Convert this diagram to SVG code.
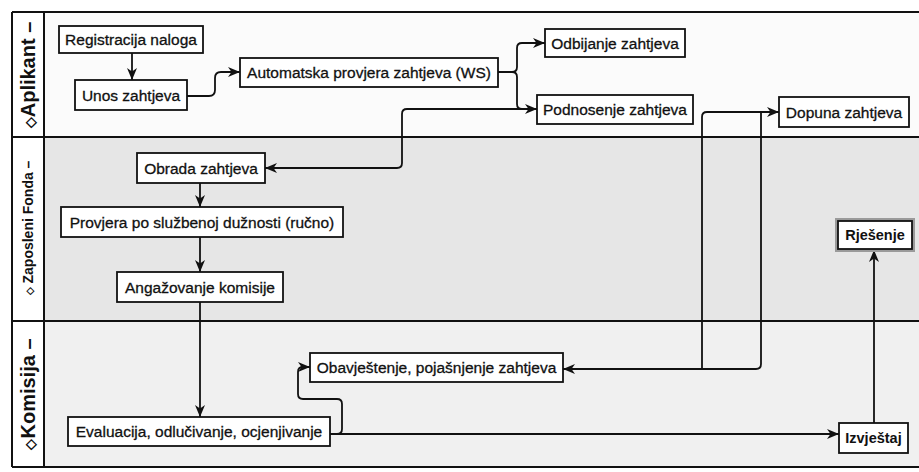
<svg xmlns="http://www.w3.org/2000/svg" width="919" height="472" viewBox="0 0 919 472">
<style>
.node rect{fill:#fff;stroke:#111;stroke-width:1.8}
.node text{font-family:"Liberation Sans",Arial,sans-serif;font-size:15.5px;fill:#111;stroke:#111;stroke-width:0.3;text-anchor:middle}
.node text.b{font-weight:bold;font-size:14.5px;stroke-width:0}
.conn path{fill:none;stroke:#111;stroke-width:1.8}
.lane{font-family:"Liberation Sans",Arial,sans-serif;font-weight:bold;fill:#111;text-anchor:middle}
.dia{font-size:72%}
.frame{stroke:#111;stroke-width:2;fill:none}
</style>
<defs>
<marker id="arr" markerUnits="userSpaceOnUse" markerWidth="13" markerHeight="11" refX="12" refY="5" orient="auto">
<path d="M0,0 L12,5 L0,10 L3.5,5 z" fill="#111"/>
</marker>
</defs>
<rect width="919" height="472" fill="#fff"/>
<g id="lanes">
<rect x="44" y="12" width="875" height="125" fill="#fbfbfb"/>
<rect x="44" y="137" width="875" height="184" fill="#e6e6e6"/>
<rect x="44" y="321" width="875" height="146" fill="#f0f0f0"/>
<path class="frame" d="M12,12 H919 M12,137 H919 M12,321 H919 M12,467 H919 M12,12 V467 M44,12 V467"/>
<text class="lane" font-size="20" transform="translate(35,75) rotate(-90)"><tspan class="dia">◇</tspan>Aplikant –</text>
<text class="lane" font-size="14" transform="translate(33,228) rotate(-90)"><tspan class="dia">◇</tspan> Zaposleni Fonda –</text>
<text class="lane" font-size="20" transform="translate(35,394) rotate(-90)"><tspan class="dia">◇</tspan>Komisija –</text>
</g>
<g class="conn" id="connectors">
<path d="M132,53 V80" marker-end="url(#arr)"/>
<path d="M187,96 H209 Q215,96 215,90 V78 Q215,72 221,72 H240" marker-end="url(#arr)"/>
<path d="M498,72 H512 Q517,72 517,67 V48 Q517,43 522,43 H545" marker-end="url(#arr)"/>
<path d="M498,72 H512 Q517,72 517,77 V104 Q517,109 522,109 H537" marker-end="url(#arr)"/>
<path d="M537,109 H407 Q402,109 402,114 V163 Q402,168 397,168 H265" marker-end="url(#arr)"/>
<path d="M200,183 V207" marker-end="url(#arr)"/>
<path d="M200,237 V272" marker-end="url(#arr)"/>
<path d="M200,302 V417" marker-end="url(#arr)"/>
<path d="M330,434 H337 Q342,434 342,429 V404 Q342,399 337,399 H303 Q298,399 298,394 V372 Q298,367 303,367 H310" marker-end="url(#arr)"/>
<path d="M330,434 H839" marker-end="url(#arr)"/>
<path d="M874,423 V250" marker-end="url(#arr)"/>
<path d="M563,369 H702 V117 Q702,112 707,112 H779" marker-end="url(#arr)"/>
<path d="M779,112 H761 V364 Q761,369 756,369 H563" marker-end="url(#arr)"/>
</g>
<g class="node" id="registracija"><rect x="59" y="26" width="144" height="27"/><text x="131" y="45">Registracija naloga</text></g>
<g class="node" id="unos"><rect x="75" y="80" width="112" height="30"/><text x="131" y="100.5">Unos zahtjeva</text></g>
<g class="node" id="automatska"><rect x="240" y="58" width="258" height="29"/><text x="369" y="78">Automatska provjera zahtjeva (WS)</text></g>
<g class="node" id="odbijanje"><rect x="545" y="29" width="140" height="28"/><text x="615" y="48.5">Odbijanje zahtjeva</text></g>
<g class="node" id="podnosenje"><rect x="537" y="95" width="156" height="29"/><text x="615" y="115">Podnosenje zahtjeva</text></g>
<g class="node" id="dopuna"><rect x="779" y="97" width="130" height="30"/><text x="844" y="117.5">Dopuna zahtjeva</text></g>
<g class="node" id="obrada"><rect x="137" y="153" width="128" height="30"/><text x="201" y="173.5">Obrada zahtjeva</text></g>
<g class="node" id="provjera"><rect x="61" y="207" width="282" height="30"/><text x="202" y="227.5">Provjera po službenoj dužnosti (ručno)</text></g>
<g class="node" id="angazovanje"><rect x="117" y="272" width="166" height="30"/><text x="200" y="292.5">Angažovanje komisije</text></g>
<g class="node" id="rjesenje"><rect x="838" y="221" width="74" height="28" style="stroke:#9a9a9a;stroke-width:6"/><rect x="838" y="221" width="74" height="28"/><text class="b" x="875" y="240">Rješenje</text></g>
<g class="node" id="obavjestenje"><rect x="310" y="353" width="253" height="29"/><text x="436.5" y="373">Obavještenje, pojašnjenje zahtjeva</text></g>
<g class="node" id="evaluacija"><rect x="68" y="417" width="262" height="29"/><text x="199" y="437">Evaluacija, odlučivanje, ocjenjivanje</text></g>
<g class="node" id="izvjestaj"><rect x="839" y="423" width="69" height="30"/><text class="b" x="873.5" y="443">Izvještaj</text></g>
</svg>
